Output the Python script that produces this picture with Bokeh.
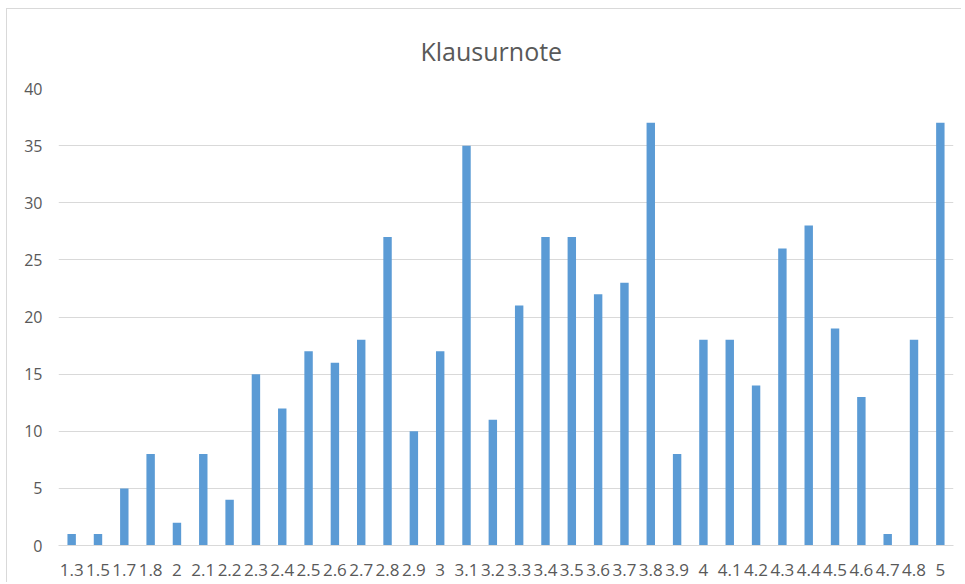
from bokeh.plotting import figure
from bokeh.models import Range1d, FixedTicker
from bokeh.embed import file_html
from bokeh.resources import INLINE

categories = ["1.3", "1.5", "1.7", "1.8", "2", "2.1", "2.2", "2.3", "2.4", "2.5",
              "2.6", "2.7", "2.8", "2.9", "3", "3.1", "3.2", "3.3", "3.4", "3.5",
              "3.6", "3.7", "3.8", "3.9", "4", "4.1", "4.2", "4.3", "4.4", "4.5",
              "4.6", "4.7", "4.8", "5"]
counts = [1, 1, 5, 8, 2, 8, 4, 15, 12, 17,
          16, 18, 27, 10, 17, 35, 11, 21, 27, 27,
          22, 23, 37, 8, 18, 18, 14, 26, 28, 19,
          13, 1, 18, 37]
y_ticks = [0, 5, 10, 15, 20, 25, 30, 35, 40]
title_text = "Klausurnote"

FONT = "Open Sans"
GREY = "#595959"

p = figure(x_range=categories, width=955, height=574,
           output_backend="svg", toolbar_location=None,
           min_border_left=51, min_border_right=9,
           min_border_top=79, min_border_bottom=38,
           styles={"border-left": "1px solid #d9d9d9",
                   "border-top": "1px solid #d9d9d9",
                   "margin-left": "6px", "margin-top": "8px"})
p.y_range = Range1d(0, 40)
p.x_range.range_padding = 0

p.vbar(x=categories, top=counts, width=0.32, color="#5b9bd5", line_color=None)

p.title.text = title_text
p.title.align = "left"
p.title.offset = 362
p.title.standoff = 42
p.title.text_font = FONT
p.title.text_font_size = "25px"
p.title.text_font_style = "normal"
p.title.text_color = GREY

p.outline_line_color = None
p.background_fill_color = "white"
p.border_fill_color = "white"

p.xgrid.grid_line_color = None
p.ygrid.grid_line_color = "#d9d9d9"
p.ygrid.grid_line_width = 1

p.yaxis.ticker = FixedTicker(ticks=y_ticks)
p.yaxis.axis_line_color = None
p.yaxis.major_tick_line_color = None
p.yaxis.major_tick_out = 0
p.yaxis.major_tick_in = 0
p.yaxis.minor_tick_line_color = None
p.yaxis.major_label_text_font = FONT
p.yaxis.major_label_text_font_size = "16px"
p.yaxis.major_label_text_color = GREY
p.yaxis.major_label_standoff = 16

p.xaxis.axis_line_color = "#d9d9d9"
p.xaxis.major_tick_line_color = None
p.xaxis.major_tick_out = 0
p.xaxis.major_tick_in = 0
p.xaxis.minor_tick_line_color = None
p.xaxis.major_label_text_font = FONT
p.xaxis.major_label_text_font_size = "17px"
p.xaxis.major_label_text_color = GREY
p.xaxis.major_label_standoff = 18

open("out.html", "w").write(file_html(p, INLINE))
